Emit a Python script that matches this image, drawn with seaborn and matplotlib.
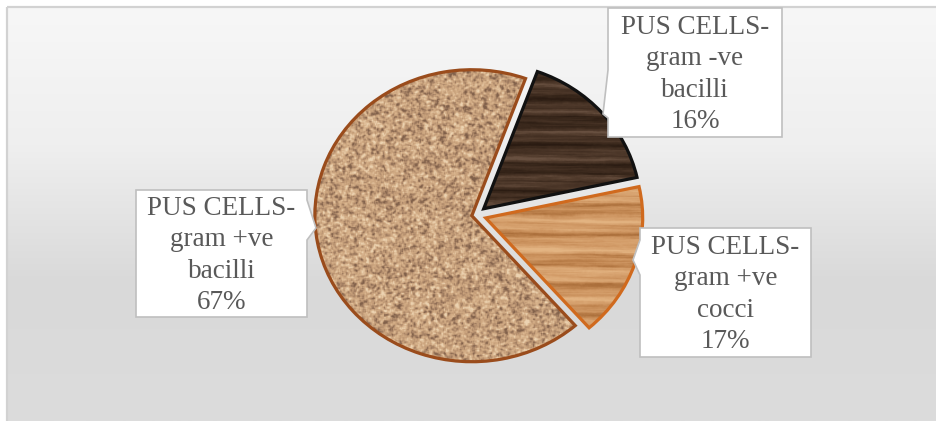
import numpy as np
import pandas as pd
import seaborn as sns
import matplotlib
matplotlib.use("Agg")
import matplotlib.pyplot as plt
from matplotlib.colors import LinearSegmentedColormap
from matplotlib.patches import Polygon, Rectangle

# ---- data -------------------------------------------------------------
categories = ["PUS CELLS-\ngram -ve\nbacilli",
              "PUS CELLS-\ngram +ve\ncocci",
              "PUS CELLS-\ngram +ve\nbacilli"]
percent = [16, 17, 67]

df = pd.DataFrame({"category": categories, "percent": percent})

# ---- style ------------------------------------------------------------
sns.set_theme(style="white")
plt.rcParams["font.family"] = ["Liberation Serif", "DejaVu Serif"]

W, H = 936, 421
fig = plt.figure(figsize=(W / 100, H / 100), dpi=100)
fig.patch.set_facecolor("white")


# ---- helpers for procedural textures ---------------------------------
def hash_noise(n, m, seed):
    i, j = np.mgrid[0:n, 0:m].astype(float)
    v = np.sin(i * 12.9898 + j * 78.233 + seed * 37.719) * 43758.5453
    return v - np.floor(v)


def box_blur(a, rx, ry=None):
    ry = rx if ry is None else ry
    out = a
    if ry > 0:
        k = 2 * ry + 1
        p = np.pad(out, ((ry, ry), (0, 0)), mode="wrap")
        c = np.vstack([np.zeros((1, p.shape[1])), np.cumsum(p, axis=0)])
        out = (c[k:] - c[:-k]) / k
    if rx > 0:
        k = 2 * rx + 1
        p = np.pad(out, ((0, 0), (rx, rx)), mode="wrap")
        c = np.hstack([np.zeros((p.shape[0], 1)), np.cumsum(p, axis=1)])
        out = (c[:, k:] - c[:, :-k]) / k
    return out


def normalise(a):
    lo, hi = np.percentile(a, [2, 98])
    return np.clip((a - lo) / (hi - lo), 0, 1)


N = 420
yy, xx = np.mgrid[0:N, 0:N] / N

# cork: grainy speckle at a few scales
cork = (0.40 * box_blur(hash_noise(N, N, 1), 1)
        + 0.40 * box_blur(hash_noise(N, N, 2), 2)
        + 0.20 * box_blur(hash_noise(N, N, 3), 4))
cork = normalise(cork)
cork_cmap = LinearSegmentedColormap.from_list(
    "cork", ["#80604a", "#ab8668", "#c9a27c", "#d8b38c", "#ecd3b1"])


def wood(seed, f_hi, f_lo):
    warp = box_blur(hash_noise(N, N, seed), 45, 3)
    streak = box_blur(hash_noise(N, N, seed + 1), 30, 0)
    fine = box_blur(hash_noise(N, N, seed + 2), 8, 0)
    ring = np.sin(yy * f_hi + 40 * warp + 1.5 * np.sin(xx * 4))
    band = np.sin(yy * f_lo + 15 * warp)
    return normalise(0.30 * ring ** 3 + 0.30 * band
                     + 0.25 * (streak - 0.5) * 8 + 0.15 * (fine - 0.5) * 4)


# dark wood and light wood grain
dark = wood(4, 240, 95)
dark_cmap = LinearSegmentedColormap.from_list(
    "dark", ["#2a1b12", "#37261a", "#443023", "#523c2d", "#685040"])
light = wood(8, 220, 85)
light_cmap = LinearSegmentedColormap.from_list(
    "light", ["#ab6f3b", "#c08550", "#cf9763", "#d9a572", "#e3b482"])

textures = [(dark, dark_cmap), (light, light_cmap), (cork, cork_cmap)]
edge_colors = ["#111111", "#d06a1e", "#9a4c1c"]
explode = [0.065, 0.065, 0.027]

# ---- background panel -------------------------------------------------
bg = fig.add_axes([0, 0, 1, 1], zorder=0)
grad_cmap = LinearSegmentedColormap.from_list(
    "panel", ["#f7f7f7", "#efefef", "#d9d9d9", "#dcdcdc"])
bg.imshow(np.linspace(0, 1, 256)[:, None], extent=(7, W, H, 7), cmap=grad_cmap,
          aspect="auto", interpolation="bilinear")
bg.add_patch(Rectangle((7, 7), W, H, fill=False, ec="#d2d2d2", lw=1.6))
bg.set_xlim(0, W)
bg.set_ylim(H, 0)
bg.axis("off")

# ---- pie --------------------------------------------------------------
cx, cy, rx, ry = 476, 215, 157, 146
pax = fig.add_axes([0, 0, 1, 1], zorder=1)
pax.patch.set_alpha(0)
wedges, _ = pax.pie(df["percent"], startangle=70, counterclock=False,
                    explode=explode, radius=1,
                    wedgeprops=dict(facecolor="none", linewidth=2.3, zorder=3))
for w, (tex, cmap), ec in zip(wedges, textures, edge_colors):
    w.set_edgecolor(ec)
    im = pax.imshow(tex, extent=(-1.2, 1.2, -1.2, 1.2), cmap=cmap,
                    aspect="auto", interpolation="bilinear", zorder=2)
    im.set_clip_path(w)
pax.set_aspect("auto")
pax.set_xlim(-cx / rx, (W - cx) / rx)
pax.set_ylim((cy - H) / ry, cy / ry)
pax.axis("off")

# ---- callout labels ---------------------------------------------------
ov = fig.add_axes([0, 0, 1, 1], zorder=2)
ov.patch.set_alpha(0)
ov.set_xlim(0, W)
ov.set_ylim(H, 0)
ov.axis("off")

# box (x0, y0, x1, y1), side of the tail, tail base span, tail tip
callouts = [
    ((608, 8, 782, 137), "left", (70, 118), (603, 114)),
    ((640, 228, 811, 357), "left", (240, 275), (633, 260)),
    ((136, 190, 307, 317), "right", (200, 240), (316, 228)),
]


def callout_outline(box, side, base, tip):
    x0, y0, x1, y1 = box
    a, b = base
    if side == "right":
        return [(x0, y0), (x1, y0), (x1, a), tip, (x1, b), (x1, y1), (x0, y1)]
    return [(x0, y0), (x1, y0), (x1, y1), (x0, y1), (x0, b), tip, (x0, a)]


for (box, side, base, tip), cat, pct in zip(callouts, df["category"], df["percent"]):
    ov.add_patch(Polygon(callout_outline(box, side, base, tip), closed=True,
                         fc="white", ec="#bfbfbf", lw=1.2, joinstyle="miter"))
    x0, y0, x1, y1 = box
    ov.text((x0 + x1) / 2, (y0 + y1) / 2 + 2, f"{cat}\n{pct}%",
            ha="center", va="center", multialignment="center",
            fontsize=19.5, color="#595959", linespacing=1.32)

fig.savefig("out.png", dpi=100)
